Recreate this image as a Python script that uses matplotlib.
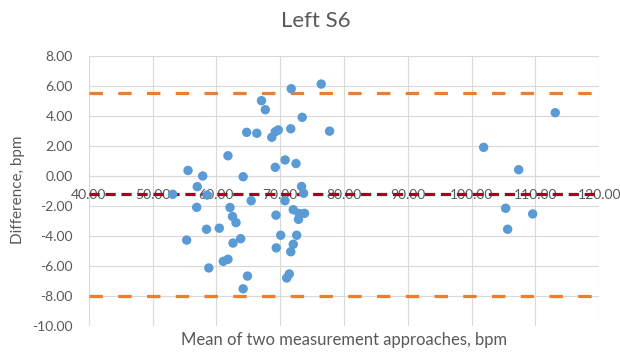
import matplotlib
matplotlib.use("Agg")
import matplotlib.pyplot as plt
from matplotlib.ticker import FormatStrFormatter

plt.rcParams['font.family'] = ['Lato', 'DejaVu Sans']

# Bland-Altman data: mean of the two approaches (bpm) vs. their difference (bpm)
mean_bpm = [53.16, 55.56, 57.01, 57.86, 58.53, 56.92, 61.82, 62.14, 62.53, 63.08,
            58.46, 60.46, 55.35, 62.61, 63.81, 61.09, 61.82, 58.82, 64.88, 64.20,
            64.20, 64.75, 66.34, 65.46, 67.07, 67.67, 68.69, 69.23, 69.70, 69.23,
            70.78, 71.66, 72.48, 71.73, 73.45, 76.43, 77.74, 73.35, 73.67, 70.75,
            72.05, 72.95, 73.82, 72.87, 69.34, 70.08, 72.59, 72.05, 71.66, 69.39,
            71.43, 71.02, 113.10, 101.88, 107.37, 105.33, 105.64, 109.56]
diff_bpm = [-1.22, 0.37, -0.71, 0.00, -1.27, -2.09, 1.35, -2.10, -2.70, -3.11,
            -3.55, -3.48, -4.27, -4.47, -4.18, -5.69, -5.55, -6.13, -6.67, -7.52,
            -0.05, 2.91, 2.85, -1.65, 5.02, 4.42, 2.58, 2.95, 3.07, 0.58,
            1.07, 3.15, 0.83, 5.82, 3.91, 6.13, 2.99, -0.70, -1.15, -1.65,
            -2.25, -2.50, -2.49, -2.89, -2.61, -3.95, -3.95, -4.55, -5.05, -4.79,
            -6.53, -6.80, 4.22, 1.91, 0.42, -2.15, -3.55, -2.53]

bias = -1.21
upper_loa = 5.55
lower_loa = -7.99

x_ticks = [40, 50, 60, 70, 80, 90, 100, 110, 120]
y_ticks = [-10, -8, -6, -4, -2, 0, 2, 4, 6, 8]

text_color = '#595959'
grid_color = '#D9D9D9'

fig = plt.figure(figsize=(6.2, 3.53), dpi=100)
ax = fig.add_axes([88.7 / 620, 1 - 326 / 353, (599.3 - 88.7) / 620, 270 / 353])

ax.set_xlim(40, 120)
ax.set_ylim(-10, 8)
ax.set_xticks(x_ticks)
ax.set_yticks(y_ticks)
ax.xaxis.set_major_formatter(FormatStrFormatter('%.2f'))
ax.yaxis.set_major_formatter(FormatStrFormatter('%.2f'))
ax.grid(True, color=grid_color, linewidth=0.8)
ax.set_axisbelow(True)

for side in ('top', 'right', 'left'):
    ax.spines[side].set_visible(False)
ax.spines['bottom'].set_position(('data', 0))
ax.spines['bottom'].set_color(grid_color)
ax.spines['bottom'].set_linewidth(0.8)

ax.tick_params(axis='x', length=0, pad=9.5, labelsize=10, labelcolor=text_color)
ax.tick_params(axis='y', length=0, pad=11.5, labelsize=10, labelcolor=text_color)

# Limits of agreement and mean bias
ax.axhline(upper_loa, color='#ED7D31', linewidth=2.3, dashes=(4.2, 4.8), zorder=3)
ax.axhline(lower_loa, color='#ED7D31', linewidth=2.3, dashes=(4.2, 4.8), zorder=3)
ax.axhline(bias, color='#A50021', linewidth=2.3, dashes=(3.2, 1.8), zorder=3)

ax.scatter(mean_bpm, diff_bpm, s=46, color='#5B9BD5', edgecolors='none', zorder=4)

fig.text(0.51, 1 - 21 / 353, 'Left S6', ha='center', va='center',
         fontsize=16, color=text_color)
fig.text(18 / 620, 1 - 190 / 353, 'Difference, bpm', rotation=90,
         ha='center', va='center', fontsize=11, color=text_color)
fig.text(344 / 620, 1 - 340 / 353, 'Mean of two measurement approaches, bpm',
         ha='center', va='center', fontsize=12, color=text_color)

fig.savefig('out.png', dpi=100)
